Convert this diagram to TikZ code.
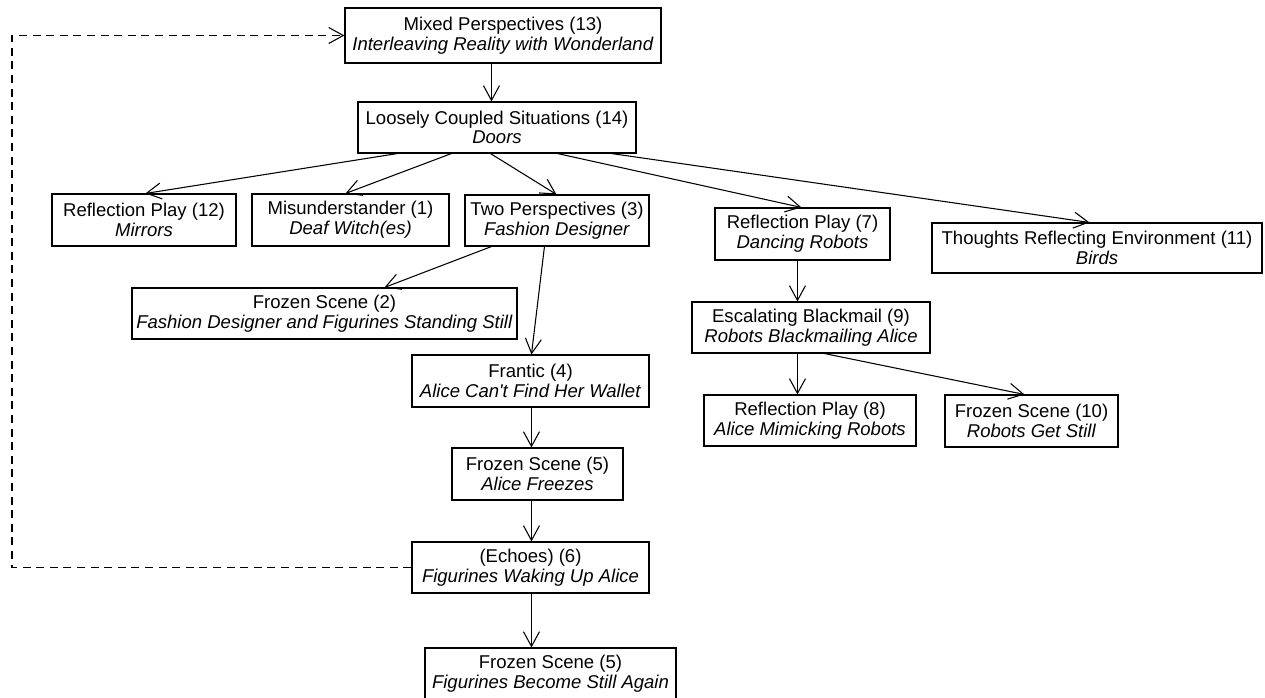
\documentclass[tikz,border=0pt]{standalone}
\usepackage{fontspec}
\setmainfont{Liberation Sans}
\usetikzlibrary{arrows.meta,calc}
\tikzset{
  bx/.style 2 args={draw=black, line width=0.8pt, align=center, inner sep=0pt,
    minimum width=#1*0.75pt, minimum height=#2*0.75pt,
    font=\fontsize{13.9}{14.8}\selectfont},
  conn/.style={draw=black, line width=0.8pt, -{Straight Barb[length=11pt,width=12pt,line width=0.8pt]}},
  back/.style={conn, dash pattern=on 6pt off 4.2pt}
}
\newcommand{\sub}[1]{\textit{#1}}
\begin{document}
\begin{tikzpicture}[x=0.75pt,y=-0.75pt]
\useasboundingbox (0,0) rectangle (1265,698);
% boxes: centre = ((x1+x2)/2,(y1+y2)/2), size = (x2-x1, y2-y1)
\node[bx={316}{55}] (A) at (503,35.5) {Mixed Perspectives (13)\\\sub{Interleaving Reality with Wonderland}};
\node[bx={278}{51}] (B) at (497,127.5) {Loosely Coupled Situations (14)\\\sub{Doors}};
\node[bx={184}{52}] (C) at (144,220) {Reflection Play (12)\\\sub{Mirrors}};
\node[bx={197}{52}] (D) at (350.5,220) {Misunderstander (1)\\\sub{Deaf Witch(es)}};
\node[bx={184}{51}] (E) at (557,220.5) {Two Perspectives (3)\\\sub{Fashion Designer}};
\node[bx={175}{52}] (G) at (802.5,234) {Reflection Play (7)\\\sub{Dancing Robots}};
\node[bx={330}{50}] (H) at (1097,248) {Thoughts Reflecting Environment (11)\\\sub{Birds}};
\node[bx={385}{51}] (F) at (324.5,313.5) {Frozen Scene (2)\\\sub{Fashion Designer and Figurines Standing Still}};
\node[bx={237}{52}] (I) at (530.5,381) {Frantic (4)\\\sub{Alice Can\textquotesingle t Find Her Wallet}};
\node[bx={238}{51}] (J) at (811,327.5) {Escalating Blackmail (9)\\\sub{Robots Blackmailing Alice}};
\node[bx={212}{51}] (K) at (810,420.5) {Reflection Play (8)\\\sub{Alice Mimicking Robots}};
\node[bx={173}{52}] (L) at (1031.5,421) {Frozen Scene (10)\\\sub{Robots Get Still}};
\node[bx={171}{52}] (M) at (537.5,474) {Frozen Scene (5)\\\sub{Alice Freezes}};
\node[bx={237}{51}] (N) at (530.5,567.5) {(Echoes) (6)\\\sub{Figurines Waking Up Alice}};
\node[bx={251}{52}] (O) at (550.5,674) {Frozen Scene (5)\\\sub{Figurines Become Still Again}};
\coordinate (L1) at (12,567.5);
\coordinate (L2) at (12,35.5);
\draw[conn] ($(A.south west)+(147,0)$) -- ($(B.north west)+(134,0)$);
\draw[conn] ($(B.south west)+(40,0)$) -- ($(C.north west)+(94,0)$);
\draw[conn] ($(B.south west)+(94,0)$) -- ($(D.north west)+(94,0)$);
\draw[conn] ($(B.south west)+(133,0)$) -- ($(E.north west)+(92,0)$);
\draw[conn] ($(B.south west)+(200,0)$) -- ($(G.north west)+(87,0)$);
\draw[conn] ($(B.south west)+(254,0)$) -- ($(H.north west)+(158,0)$);
\draw[conn] ($(E.south west)+(27,0)$) -- ($(F.north west)+(253,0)$);
\draw[conn] ($(E.south west)+(80,0)$) -- ($(I.north west)+(120,0)$);
\draw[conn] ($(G.south west)+(83,0)$) -- ($(J.north west)+(106,0)$);
\draw[conn] ($(J.south west)+(106,0)$) -- ($(K.north west)+(94,0)$);
\draw[conn] ($(J.south west)+(133,0)$) -- ($(L.north west)+(80,0)$);
\draw[conn] ($(I.south west)+(120,0)$) -- ($(M.north west)+(80,0)$);
\draw[conn] ($(M.south west)+(80,0)$) -- ($(N.north west)+(120,0)$);
\draw[conn] ($(N.south west)+(120,0)$) -- ($(O.north west)+(107,0)$);
\draw[back] (N.west) -- (L1) -- (L2) -- (A.west);
\end{tikzpicture}
\end{document}
